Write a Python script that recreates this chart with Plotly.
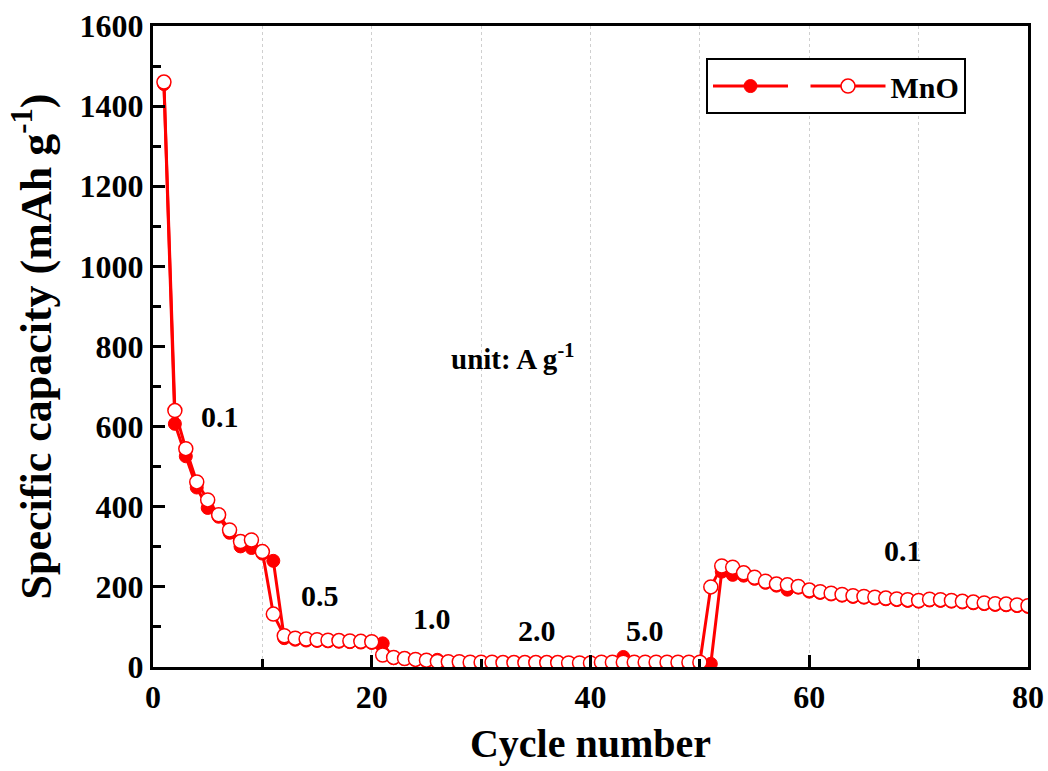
import plotly.graph_objects as go

cycles = list(range(1, 81))

# filled circles (discharge)
capacity_filled = [
    1455, 607, 526, 448, 397, 375, 335, 301, 297, 283,
    265, 72, 68, 66, 65, 64, 63, 62, 61, 60,
    59, 22, 20, 18, 17, 18, 12, 12, 11, 11,
    11, 11, 11, 11, 11, 11, 10, 10, 10, 10,
    11, 11, 25, 11, 11, 11, 11, 11, 11, 11,
    8, 238, 230, 228, 220, 210, 203, 193, 198, 188,
    185, 181, 178, 175, 173, 171, 169, 167, 165, 163,
    166, 165, 163, 161, 159, 157, 155, 154, 152, 150,
]

# open circles (charge)
capacity_open = [
    1460, 640, 545, 462, 417, 380, 342, 313, 317, 288,
    132, 78, 72, 70, 68, 67, 66, 65, 64, 63,
    30, 24, 21, 19, 17, 14, 13, 13, 12, 12,
    12, 11, 11, 11, 11, 11, 11, 10, 10, 10,
    12, 12, 12, 12, 12, 12, 12, 12, 12, 12,
    200, 252, 249, 235, 224, 214, 207, 205, 201, 192,
    188, 184, 181, 178, 176, 174, 172, 170, 168, 166,
    169, 168, 166, 164, 162, 160, 158, 157, 155, 153,
]

rate_labels = ["0.1", "0.5", "1.0", "2.0", "5.0", "0.1"]
rate_x = [6.1, 15.3, 25.5, 35.1, 45.0, 68.6]
rate_y = [625, 178, 122, 90, 90, 292]

FONT = "Liberation Serif"
RED = "#ff0000"

fig = go.Figure()
fig.add_trace(go.Scatter(
    x=cycles, y=capacity_filled, mode="lines+markers", name=" ",
    line=dict(color=RED, width=3),
    marker=dict(symbol="circle", size=13, color=RED, line=dict(color=RED, width=1)),
))
fig.add_trace(go.Scatter(
    x=cycles, y=capacity_open, mode="lines+markers", name="MnO",
    line=dict(color=RED, width=3),
    marker=dict(symbol="circle", size=14, color="white", line=dict(color=RED, width=1.5)),
))

for t, xx, yy in zip(rate_labels, rate_x, rate_y):
    fig.add_annotation(x=xx, y=yy, text=t, showarrow=False,
                       font=dict(family=FONT, size=30, color="black", weight="bold"))
fig.add_annotation(x=32.9, y=775, text="unit: A g<sup>-1</sup>", showarrow=False,
                   font=dict(family=FONT, size=29, color="black", weight="bold"))

axis_common = dict(
    showline=True, linecolor="black", linewidth=3, mirror=True,
    ticks="inside", tickcolor="black", tickwidth=2.5, ticklen=12,
    tickfont=dict(family=FONT, size=32, color="black", weight="bold"),
    zeroline=False, automargin=False,
)

fig.update_xaxes(
    range=[0, 80], tickvals=[0, 20, 40, 60, 80],
    showgrid=True, gridcolor="#cfcfcf", gridwidth=1, griddash="dot",
    minor=dict(dtick=10, ticks="inside", ticklen=8, tickcolor="black", tickwidth=2.5,
               showgrid=True, gridcolor="#cfcfcf", gridwidth=1, griddash="dot"),
    title=dict(text="Cycle number", font=dict(family=FONT, size=40, color="black", weight="bold")),
    **axis_common,
)
fig.update_yaxes(
    range=[0, 1600], tickvals=list(range(0, 1601, 200)),
    showgrid=False,
    minor=dict(dtick=100, ticks="inside", ticklen=8, tickcolor="black", tickwidth=2.5, showgrid=False),
    title=dict(text="Specific capacity (mAh g<sup>-1</sup>)",
               font=dict(family=FONT, size=44, color="black", weight="bold")),
    **axis_common,
)

fig.update_layout(
    width=1048, height=771,
    margin=dict(l=153, r=20, t=26, b=104),
    paper_bgcolor="white", plot_bgcolor="white",
    showlegend=True,
    legend=dict(orientation="h", x=0.632, y=0.95, xanchor="left", yanchor="top",
                bordercolor="black", borderwidth=2, bgcolor="white",
                font=dict(family=FONT, size=30, color="black", weight="bold"),
                itemwidth=75),
)

fig.write_html("out.html")
